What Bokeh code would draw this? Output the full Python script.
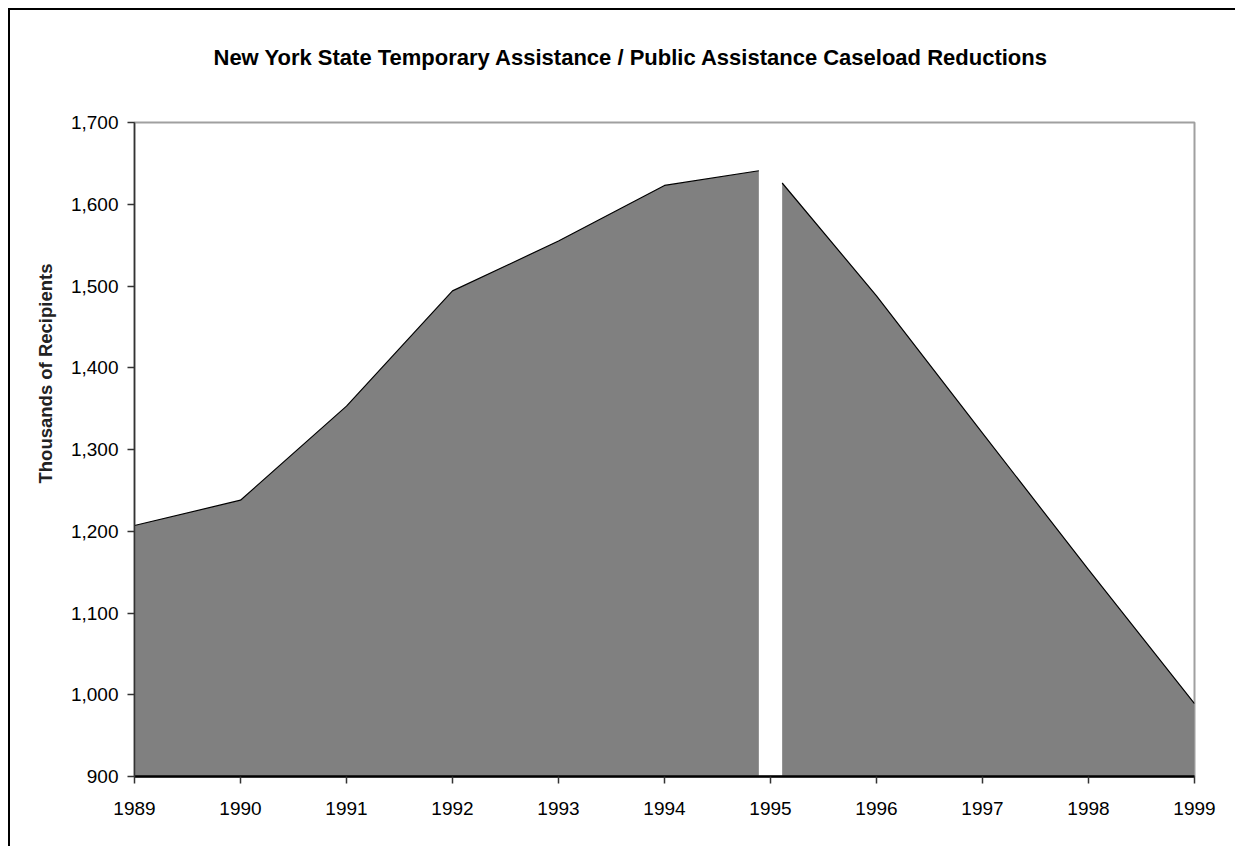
from bokeh.plotting import figure
from bokeh.models import FixedTicker, NumeralTickFormatter, Range1d, Title
from bokeh.embed import file_html
from bokeh.resources import INLINE

title_text = "New York State Temporary Assistance / Public Assistance Caseload Reductions"
y_label = "Thousands of Recipients"

# Before the 1995 break
years_a = [1989, 1990, 1991, 1992, 1993, 1994, 1994.89]
vals_a = [1207, 1238, 1353, 1494, 1555, 1623, 1641]
# After the 1995 break
years_b = [1995.11, 1996, 1997, 1998, 1999]
vals_b = [1626, 1488, 1320, 1153, 989]

x_ticks = [1989, 1990, 1991, 1992, 1993, 1994, 1995, 1996, 1997, 1998, 1999]
y_ticks = [900, 1000, 1100, 1200, 1300, 1400, 1500, 1600, 1700]
base = 900

FONT = "Liberation Sans"

p = figure(width=1240, height=840, output_backend="svg", toolbar_location=None,
           x_range=Range1d(1989, 1999), y_range=Range1d(900, 1700),
           min_border_left=124, min_border_right=56, min_border_top=112, min_border_bottom=74)
p.title = None
# spacer between frame and title (closest to the frame)
spacer = Title(text=" ", text_font=FONT, text_font_size="32px", standoff=0)
p.add_layout(spacer, "above")
t = Title(text=title_text, align="left", offset=79, text_font=FONT, text_font_size="22px",
          text_font_style="bold", text_color="black", standoff=30)
p.add_layout(t, "above")

# y-axis title, placed off-centre as in the original
yt = Title(text=y_label, align="left", offset=293, text_font=FONT, text_font_size="18.5px",
           text_font_style="bold", text_color="#222222", standoff=24)
p.add_layout(yt, "left")

p.styles = {"border-top": "2px solid black", "border-left": "2px solid black",
            "margin-left": "8px", "margin-top": "8px"}

p.varea(x=years_a, y1=[base] * len(years_a), y2=vals_a, fill_color="#808080")
p.varea(x=years_b, y1=[base] * len(years_b), y2=vals_b, fill_color="#808080")
p.line(x=years_a, y=vals_a, line_color="black", line_width=1.2)
p.line(x=years_b, y=vals_b, line_color="black", line_width=1.2)

p.grid.visible = False
p.outline_line_color = "#a0a0a0"
p.outline_line_width = 2
p.background_fill_color = "white"
p.border_fill_color = "white"

p.xaxis.ticker = FixedTicker(ticks=x_ticks)
p.xaxis.formatter = NumeralTickFormatter(format="0")
p.yaxis.ticker = FixedTicker(ticks=y_ticks)
p.yaxis.formatter = NumeralTickFormatter(format="0,0")

for ax in (p.xaxis[0], p.yaxis[0]):
    ax.major_label_text_font = FONT
    ax.major_label_text_font_size = "19px"
    ax.major_label_text_color = "black"
    ax.minor_tick_line_color = None
    ax.major_tick_in = 0
    ax.major_tick_out = 7
    ax.major_tick_line_color = "#333333"
    ax.major_tick_line_width = 1.5

p.xaxis.axis_line_color = "black"
p.xaxis.axis_line_width = 2.5
p.yaxis.axis_line_color = "#333333"
p.yaxis.axis_line_width = 1.5
p.xaxis.major_label_standoff = 18
p.yaxis.major_label_standoff = 9

open("out.html", "w").write(file_html(p, INLINE))
